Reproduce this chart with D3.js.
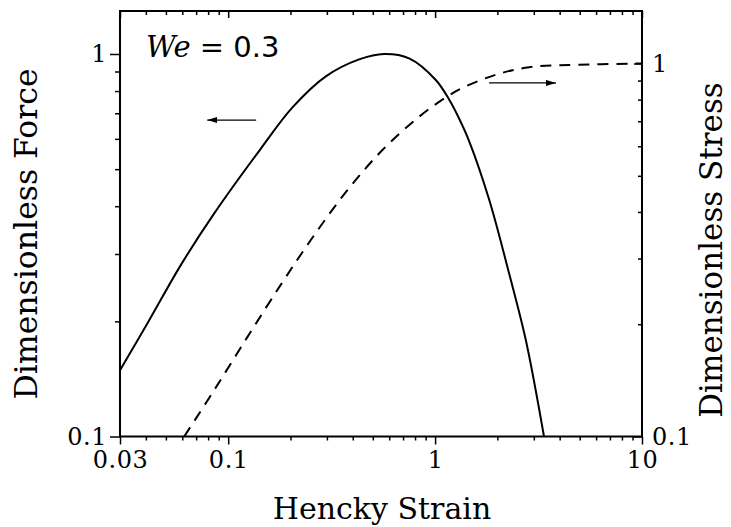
<!DOCTYPE html>
<html>
<head>
<meta charset="utf-8">
<script src="https://cdn.jsdelivr.net/npm/d3@7"></script>
<style>
  html, body { margin: 0; padding: 0; background: #fff; }
  svg { display: block; }
  text { font-family: "DejaVu Serif", serif; fill: #000; }
</style>
</head>
<body>
<svg id="chart" width="731" height="527"></svg>
<script>
// ---- data ----
const forceStrain = [0.030, 0.0408, 0.0591, 0.0856, 0.1439, 0.2045, 0.2965, 0.4295, 0.567, 0.749, 1.008, 1.169, 1.306, 1.46, 1.823, 2.278, 2.743, 3.36];
const forceValues = [0.149, 0.198, 0.281, 0.383, 0.566, 0.725, 0.874, 0.968, 1.000, 0.974, 0.855, 0.760, 0.678, 0.592, 0.417, 0.267, 0.179, 0.100];

const stressStrain = [0.0613, 0.0856, 0.124, 0.1797, 0.2508, 0.3703, 0.5564, 0.837, 1.126, 1.355, 1.964, 2.845, 4.44, 10];
const stressValues = [0.100, 0.1332, 0.185, 0.2553, 0.3363, 0.4519, 0.586, 0.720, 0.811, 0.860, 0.933, 0.977, 0.991, 1.000];

const xMajorTicks = [0.03, 0.1, 1, 10];
const xTickLabels = ["0.03", "0.1", "1", "10"];
const xMinorTicks = [0.04, 0.05, 0.06, 0.07, 0.08, 0.09, 0.2, 0.3, 0.4, 0.5, 0.6, 0.7, 0.8, 0.9, 2, 3, 4, 5, 6, 7, 8, 9];
const yMajorTicks = [0.1, 1];
const yTickLabels = ["0.1", "1"];
const yMinorTicks = [0.2, 0.3, 0.4, 0.5, 0.6, 0.7, 0.8, 0.9];

const xTitle = "Hencky Strain";
const yLeftTitle = "Dimensionless Force";
const yRightTitle = "Dimensionless Stress";

// ---- layout ----
const svg = d3.select("#chart");
const L = 120, R = 642, T = 11, B = 436.5;

const x = d3.scaleLog().domain([0.03, 10]).range([L, R]);
const yL = d3.scaleLog().domain([0.1, Math.pow(10, -1 + (B - T) / 382.5)]).range([B, T]);
const yR = d3.scaleLog().domain([0.1, Math.pow(10, -1 + (B - T) / 373)]).range([B, T]);

const defs = svg.append("defs");
defs.append("clipPath").attr("id", "clip")
  .append("rect").attr("x", L).attr("y", T).attr("width", R - L).attr("height", B - T);
defs.append("marker").attr("id", "ah").attr("viewBox", "0 0 10 6")
  .attr("refX", 10).attr("refY", 3).attr("markerWidth", 10).attr("markerHeight", 6)
  .attr("markerUnits", "userSpaceOnUse").attr("orient", "auto")
  .append("path").attr("d", "M0,0 L10,3 L0,6 Z").attr("fill", "#000");

function styleAxis(g) {
  g.select(".domain").remove();
  g.selectAll(".tick line").attr("stroke", "#000").attr("stroke-width", 1.5);
  g.selectAll(".tick text").style("font-family", "DejaVu Serif").style("font-size", "24px")
    .style("letter-spacing", "0.5px").attr("fill", "#000");
}

// bottom
svg.append("g").attr("transform", `translate(0,${B})`)
  .call(d3.axisBottom(x).tickValues(xMinorTicks).tickSize(4).tickFormat(""))
  .call(styleAxis);
svg.append("g").attr("transform", `translate(0,${B})`)
  .call(d3.axisBottom(x).tickValues(xMajorTicks).tickSize(8).tickPadding(6)
        .tickFormat((d, i) => xTickLabels[i]))
  .call(styleAxis);
// top (inward)
svg.append("g").attr("transform", `translate(0,${T})`)
  .call(d3.axisTop(x).tickValues(xMinorTicks).tickSize(-4).tickFormat(""))
  .call(styleAxis);
svg.append("g").attr("transform", `translate(0,${T})`)
  .call(d3.axisTop(x).tickValues(xMajorTicks).tickSize(-7).tickFormat(""))
  .call(styleAxis);
// left (outward)
svg.append("g").attr("transform", `translate(${L},0)`)
  .call(d3.axisLeft(yL).tickValues(yMinorTicks).tickSize(5).tickFormat(""))
  .call(styleAxis);
svg.append("g").attr("transform", `translate(${L},0)`)
  .call(d3.axisLeft(yL).tickValues(yMajorTicks).tickSize(10).tickPadding(3)
        .tickFormat((d, i) => yTickLabels[i]))
  .call(styleAxis);
// right (inward)
svg.append("g").attr("transform", `translate(${R},0)`)
  .call(d3.axisRight(yR).tickValues(yMinorTicks).tickSize(-4).tickFormat(""))
  .call(styleAxis);
svg.append("g").attr("transform", `translate(${R},0)`)
  .call(d3.axisRight(yR).tickValues(yMajorTicks).tickSize(-8).tickPadding(10)
        .tickFormat((d, i) => yTickLabels[i]))
  .call(styleAxis);

// frame
svg.append("rect").attr("x", L).attr("y", T).attr("width", R - L).attr("height", B - T)
  .attr("fill", "none").attr("stroke", "#000").attr("stroke-width", 2);

// curves
const forceData = forceStrain.map((s, i) => [s, forceValues[i]]);
const stressData = stressStrain.map((s, i) => [s, stressValues[i]]);

const plot = svg.append("g").attr("clip-path", "url(#clip)");
plot.append("path").datum(forceData)
  .attr("d", d3.line().x(d => x(d[0])).y(d => yL(d[1])).curve(d3.curveCatmullRom.alpha(0.5)))
  .attr("fill", "none").attr("stroke", "#000").attr("stroke-width", 2);
plot.append("path").datum(stressData)
  .attr("d", d3.line().x(d => x(d[0])).y(d => yR(d[1])).curve(d3.curveCatmullRom.alpha(0.5)))
  .attr("fill", "none").attr("stroke", "#000").attr("stroke-width", 2)
  .attr("stroke-dasharray", "11,8");

// arrows
svg.append("line")
  .attr("x1", x(0.1365)).attr("y1", yL(0.672)).attr("x2", x(0.0792)).attr("y2", yL(0.672))
  .attr("stroke", "#000").attr("stroke-width", 1.2).attr("marker-end", "url(#ah)");
svg.append("line")
  .attr("x1", x(1.823)).attr("y1", yR(0.887)).attr("x2", x(3.84)).attr("y2", yR(0.887))
  .attr("stroke", "#000").attr("stroke-width", 1.2).attr("marker-end", "url(#ah)");

// annotation We = 0.3
const ann = svg.append("text").attr("x", 146).attr("y", 57).style("font-size", "29px");
ann.append("tspan").style("font-family", "DejaVu Serif").style("font-style", "italic").text("We");
ann.append("tspan").style("font-family", "DejaVu Sans").text(" = 0.3");

// titles
svg.append("text").attr("x", 382).attr("y", 519).attr("text-anchor", "middle")
  .style("font-size", "30px").text(xTitle);
svg.append("text").attr("transform", "translate(37,234) rotate(-90)").attr("text-anchor", "middle")
  .style("font-size", "31.5px").text(yLeftTitle);
svg.append("text").attr("transform", "translate(722,250) rotate(-90)").attr("text-anchor", "middle")
  .style("font-size", "31px").text(yRightTitle);
</script>
</body>
</html>
